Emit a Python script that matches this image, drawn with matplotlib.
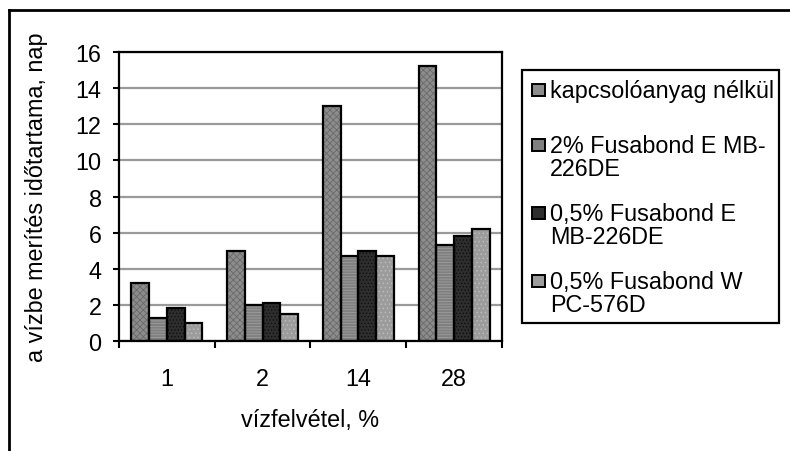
# -*- coding: utf-8 -*-

import numpy as np
from matplotlib import pyplot as plt
from matplotlib.patches import Rectangle
from matplotlib.lines import Line2D

plt.rcParams['font.family'] = ['Liberation Sans', 'DejaVu Sans']
plt.rcParams['font.size'] = 16.8
plt.rcParams['hatch.linewidth'] = 0.6

categories = ['1', '2', '14', '28']
series_names = ['kapcsolóanyag nélkül',
                '2% Fusabond E MB-\n226DE',
                '0,5% Fusabond E\nMB-226DE',
                '0,5% Fusabond W\nPC-576D']
no_coupler = [3.2, 5.0, 13.0, 15.2]
fusabond_e_2 = [1.3, 2.0, 4.7, 5.3]
fusabond_e_05 = [1.8, 2.1, 5.0, 5.8]
fusabond_w_05 = [1.0, 1.5, 4.7, 6.2]

values = [no_coupler, fusabond_e_2, fusabond_e_05, fusabond_w_05]
face = ['#8c8c8c', '#808080', '#2e2e2e', '#9c9c9c']
hatch_col = ['#6a6a6a', '#9c9c9c', '#101010', '#bababa']
hatches = ['xxxxx', '------', '.....', '....']

fig = plt.figure(figsize=(7.9, 4.52), dpi=100)
ax = fig.add_axes([0.1506, 0.2434, 0.4848, 0.6393])

x = np.arange(len(categories))
bar_width = 0.185
for i, vals in enumerate(values):
    pos = x + (i - 1.5) * bar_width
    ax.bar(pos, vals, bar_width, color=face[i], edgecolor=hatch_col[i],
           hatch=hatches[i], linewidth=0, zorder=2)
    ax.bar(pos, vals, bar_width, color='none', edgecolor='black',
           linewidth=1.6, zorder=3)

ax.set_xlim(-0.5, 3.5)
ax.set_ylim(0, 16)
ax.set_yticks(np.arange(0, 17, 2))
ax.set_xticks(np.arange(-0.5, 4, 1))
ax.set_xticklabels([])
ax.set_xticks(x, categories, minor=True)
ax.tick_params(axis='x', which='minor', length=0, pad=19)
ax.tick_params(axis='x', which='major', direction='out', length=5, width=1.5)
ax.tick_params(axis='y', direction='out', length=4.5, width=1.5, pad=8)
ax.yaxis.grid(True, color='#9a9a9a', linewidth=1.6, zorder=0)
ax.set_axisbelow(True)
for s in ax.spines.values():
    s.set_linewidth(1.6)

ax.set_xlabel('vízfelvétel, %', labelpad=13)
ax.set_ylabel('a vízbe merítés időtartama, nap', labelpad=20)

# legend box, drawn by hand in pixel coords
W, H = 790.0, 452.0
def fx(px):
    return px / W
def fy(py):
    return 1 - py / H

fig.patches.append(Rectangle((fx(522), fy(324)), fx(779) - fx(522),
                             fy(71) - fy(324), transform=fig.transFigure,
                             facecolor='white', edgecolor='black', linewidth=1.6))
entry_y = [91, 146, 214, 282]
for i, name in enumerate(series_names):
    yc = entry_y[i]
    fig.patches.append(Rectangle((fx(532), fy(yc + 6)), fx(13), 12 / H,
                                 transform=fig.transFigure, facecolor=face[i],
                                 edgecolor='black', linewidth=1.4))
    fig.text(fx(550), fy(yc - 11), name, ha='left', va='top', linespacing=1.0)

# outer chart frame
fig.lines.append(Line2D([fx(9), fx(9)], [fy(11), -0.1], transform=fig.transFigure,
                        color='black', linewidth=2))
fig.lines.append(Line2D([fx(9), 1.1], [fy(11), fy(11)], transform=fig.transFigure,
                        color='black', linewidth=2))

plt.savefig('out.png')
